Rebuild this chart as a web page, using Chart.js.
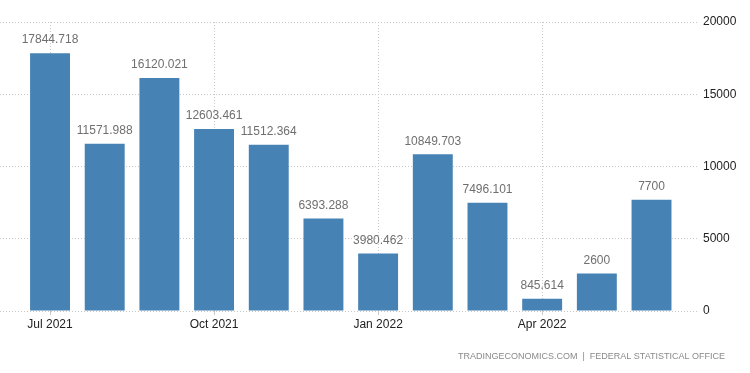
<!DOCTYPE html>
<html>
<head>
<meta charset="utf-8">
<script src="https://cdn.jsdelivr.net/npm/chart.js@4"></script>
<style>
  html, body { margin: 0; padding: 0; background: #fff; }
  #wrap { width: 750px; height: 373px; }
</style>
</head>
<body>
<div id="wrap"><canvas id="myBarChart"></canvas></div>
<script>
// monthly values, Jul 2021 - Jun 2022
const months = ['Jul 2021', 'Aug 2021', 'Sep 2021', 'Oct 2021', 'Nov 2021', 'Dec 2021',
                'Jan 2022', 'Feb 2022', 'Mar 2022', 'Apr 2022', 'May 2022', 'Jun 2022'];
const values = [17844.718, 11571.988, 16120.021, 12603.461, 11512.364, 6393.288,
                3980.462, 10849.703, 7496.101, 845.614, 2600, 7700];
const tickIndexes = [0, 3, 6, 9];
const yTicks = [0, 5000, 10000, 15000, 20000];
const sourceText = 'TRADINGECONOMICS.COM  |  FEDERAL STATISTICAL OFFICE';

const barColor = '#4682b4';
const fontName = '"Liberation Sans", Arial, sans-serif';

// draws the value above each bar, and the source line at the bottom
const valueLabels = {
    id: 'valueLabels',
    afterDatasetsDraw(chart) {
        const ctx = chart.ctx;
        const meta = chart.getDatasetMeta(0);
        ctx.save();
        ctx.font = '12px ' + fontName;
        ctx.fillStyle = '#6f6f6f';
        ctx.textAlign = 'center';
        ctx.textBaseline = 'bottom';
        meta.data.forEach((bar, i) => {
            ctx.fillText(String(values[i]), bar.x, bar.y - 7);
        });

        ctx.font = '9px ' + fontName;
        ctx.fillStyle = '#8a8a8a';
        ctx.textAlign = 'right';
        ctx.textBaseline = 'middle';
        ctx.fillText(sourceText, 725, 357);
        ctx.restore();
    }
};

const ctx = document.getElementById('myBarChart');
if (ctx) {
    new Chart(ctx, {
        type: 'bar',
        data: {
            datasets: [{
                data: values.map((v, i) => ({ x: i, y: v })),
                backgroundColor: barColor,
                borderWidth: 0,
                categoryPercentage: 1,
                barPercentage: 0.73
            }]
        },
        options: {
            responsive: true,
            maintainAspectRatio: false,
            animation: false,
            layout: { padding: { top: 22, left: 0, right: 0, bottom: 0 } },
            plugins: {
                legend: { display: false },
                tooltip: { enabled: false }
            },
            scales: {
                x: {
                    type: 'linear',
                    offset: false,
                    min: -0.915,
                    max: 11.85,
                    afterBuildTicks: (scale) => {
                        scale.ticks = tickIndexes.map(v => ({ value: v }));
                    },
                    afterFit: (scale) => { scale.height = 62; },
                    ticks: {
                        callback: (v) => months[v],
                        color: '#222',
                        font: { family: fontName, size: 12 },
                        padding: 2,
                        maxRotation: 0,
                        autoSkip: false
                    },
                    grid: {
                        offset: false,
                        color: '#c8c8c8',
                        drawTicks: true,
                        tickLength: 4
                    },
                    border: { display: false, dash: [1, 2] }
                },
                y: {
                    position: 'right',
                    min: 0,
                    max: 20000,
                    afterBuildTicks: (scale) => {
                        scale.ticks = yTicks.map(v => ({ value: v }));
                    },
                    afterFit: (scale) => { scale.width = 52; },
                    ticks: {
                        callback: (v) => String(v),
                        color: '#222',
                        font: { family: fontName, size: 12 },
                        padding: 5
                    },
                    grid: {
                        color: '#c8c8c8',
                        drawTicks: false
                    },
                    border: { display: false, dash: [1, 2] }
                }
            }
        },
        plugins: [valueLabels]
    });
} else {
    console.error('canvas not found');
}
</script>
</body>
</html>
